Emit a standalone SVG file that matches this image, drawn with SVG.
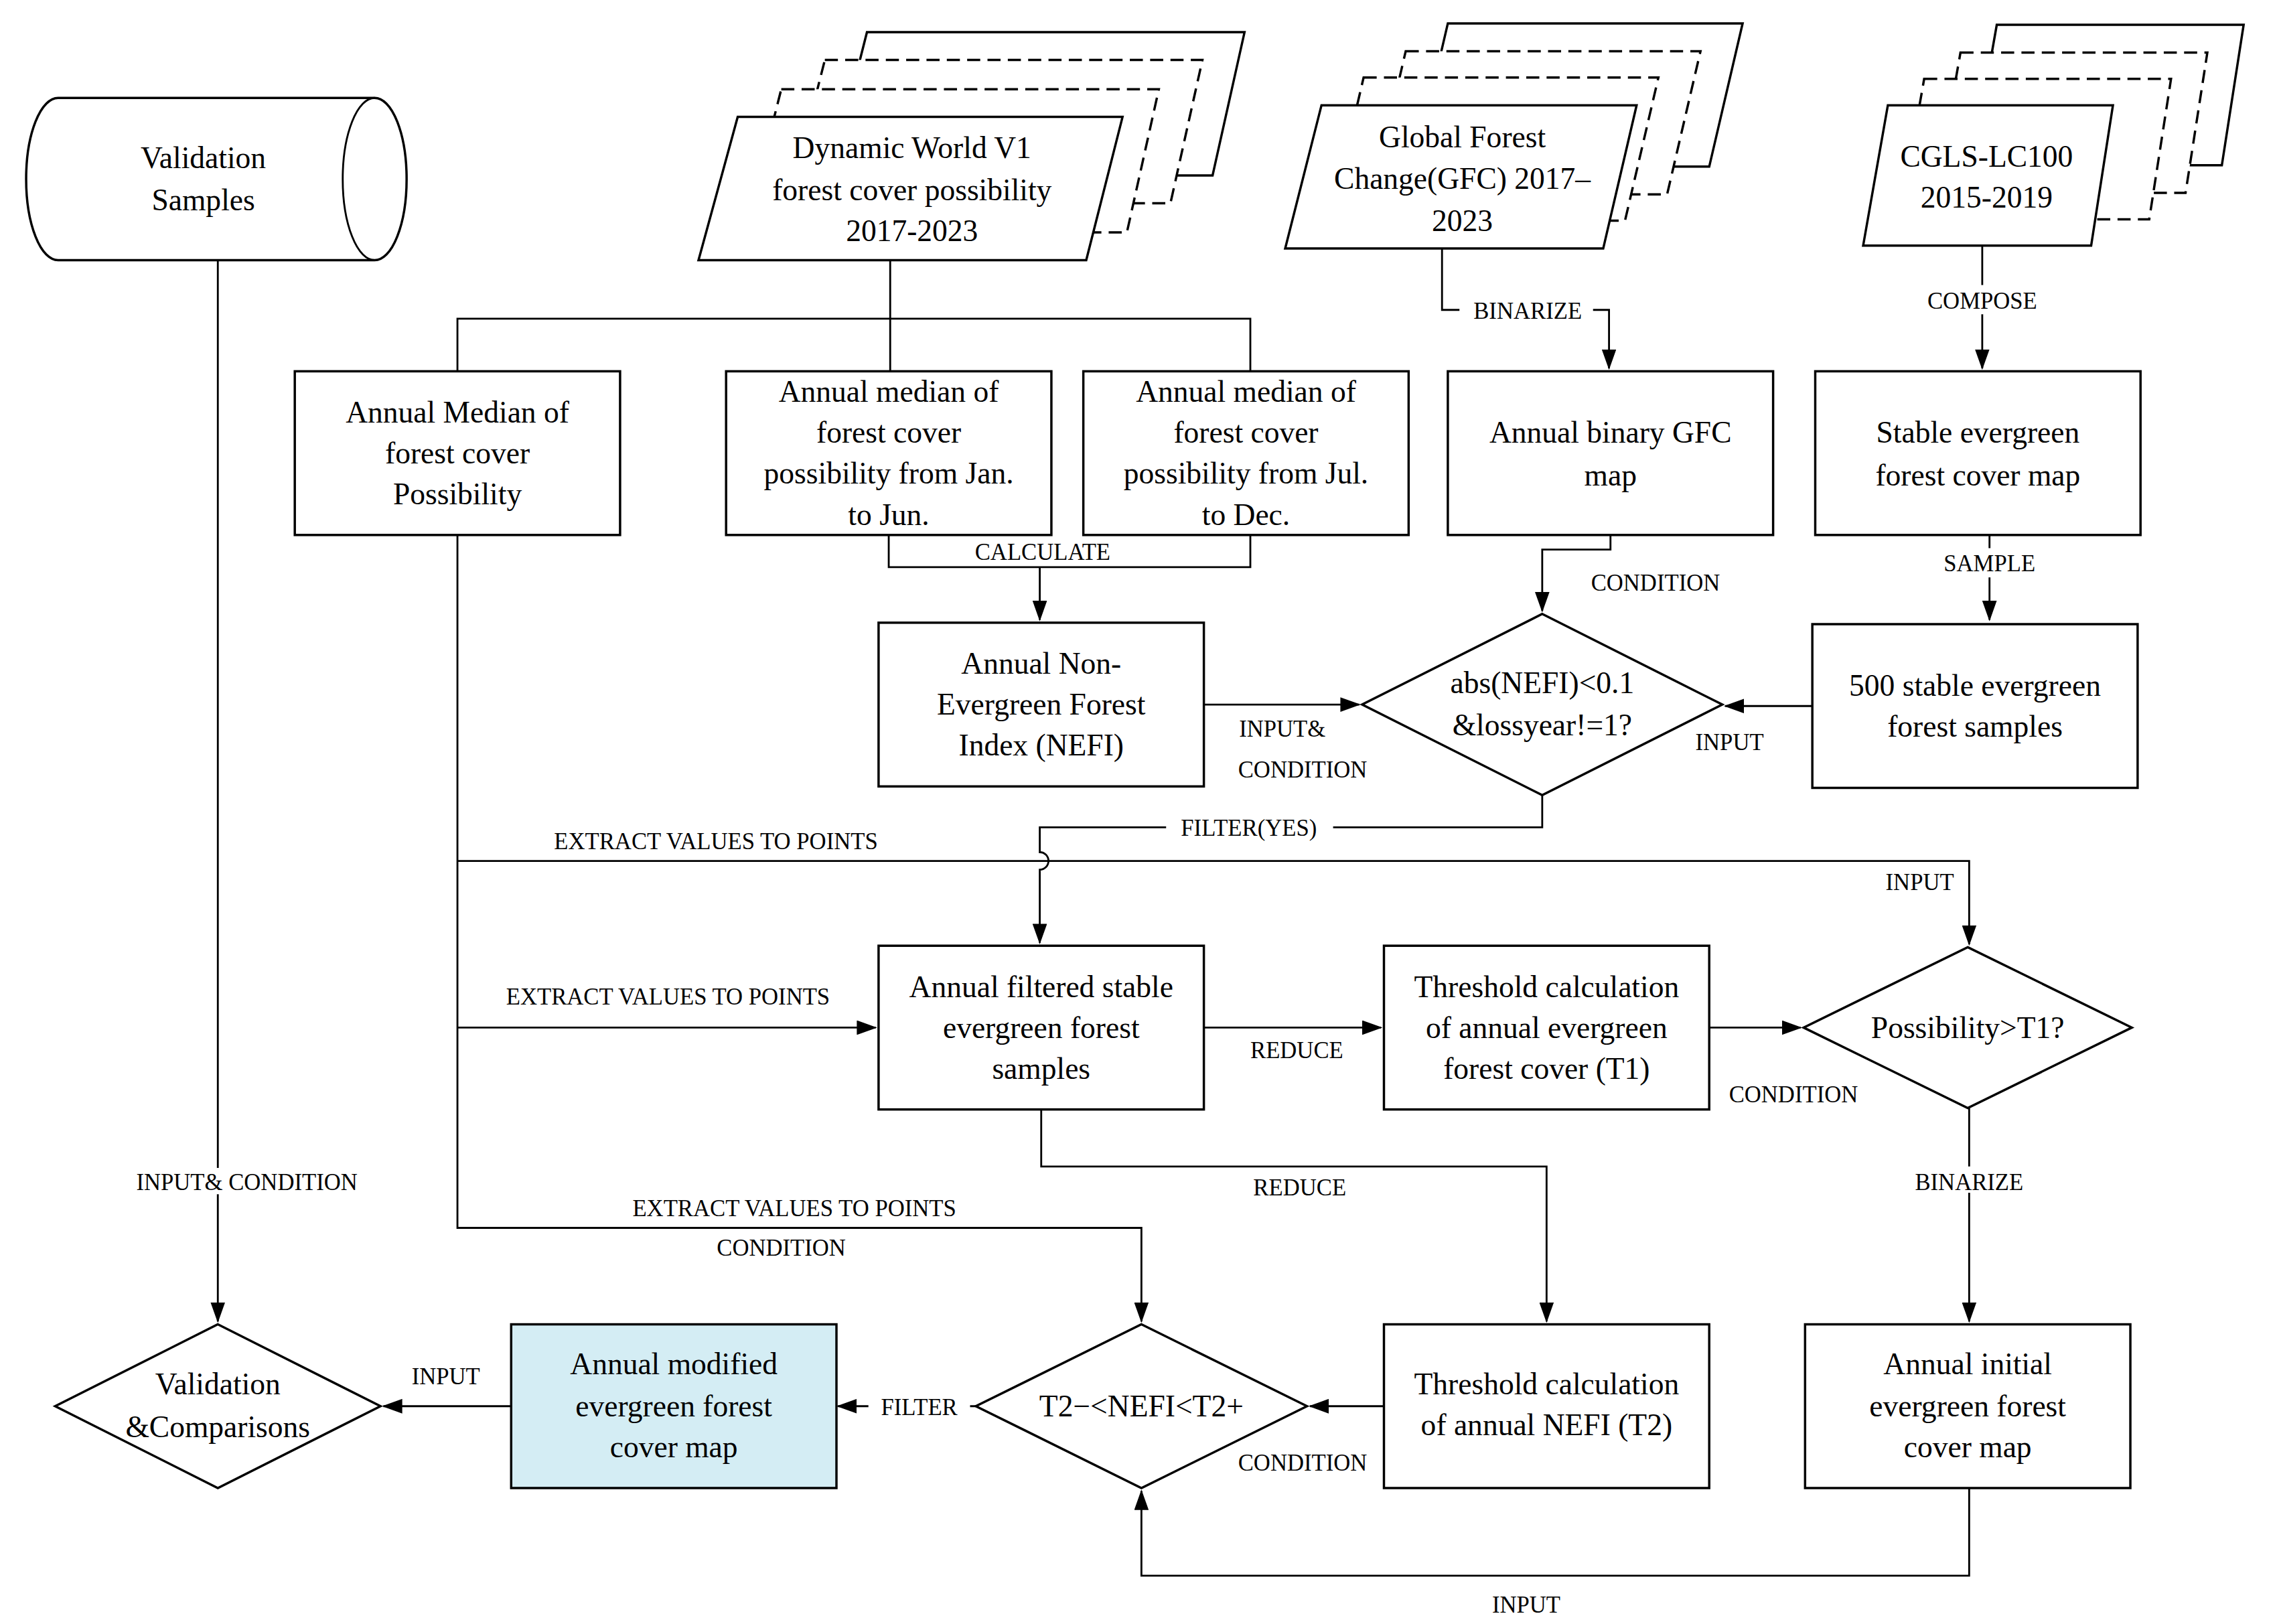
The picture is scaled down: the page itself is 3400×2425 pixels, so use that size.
<svg xmlns="http://www.w3.org/2000/svg" width="3400" height="2425" viewBox="0 0 3400 2425">
<style>
.n{fill:#fff;stroke:#000;stroke-width:1.6}
.d{fill:#fff;stroke:#000;stroke-width:1.6;stroke-dasharray:9,5}
.c{fill:none;stroke:#000;stroke-width:1.3}
.t{font-family:"Liberation Serif",serif;font-size:21px;text-anchor:middle;fill:#000}
.l{font-family:"Liberation Serif",serif;font-size:16px;text-anchor:middle;fill:#000}
.bg{fill:#fff}
</style>
<defs>
<marker id="a" markerUnits="userSpaceOnUse" markerWidth="14" markerHeight="10" refX="13" refY="5" orient="auto"><path d="M0,0 L14,5 L0,10 Z" fill="#000"/></marker>
</defs>
<rect width="3400" height="2425" fill="#fff"/>
<g transform="scale(2.1684,2.1827)">
<g id="connectors">
<path class="c" d="M613,178 V218 M315,254 V218 H861 V254 M613,218 V254"/>
<path class="c" d="M993,170 V212 H1108 V252" marker-end="url(#a)"/>
<rect class="bg" x="1005" y="203" width="92" height="18"/>
<text class="l" x="1052" y="218">BINARIZE</text>
<path class="c" d="M1365,168 V252" marker-end="url(#a)"/>
<rect class="bg" x="1318" y="195" width="94" height="20"/>
<text class="l" x="1365" y="211">COMPOSE</text>
<path class="c" d="M612,366 V388 H861 V366 M716,388 V424" marker-end="url(#a)"/>
<text class="l" x="718" y="383">CALCULATE</text>
<path class="c" d="M1370,366 V424" marker-end="url(#a)"/>
<rect class="bg" x="1330" y="375" width="80" height="20"/>
<text class="l" x="1370" y="391">SAMPLE</text>
<path class="c" d="M1109,366 V376 H1062 V418" marker-end="url(#a)"/>
<text class="l" x="1140" y="404">CONDITION</text>
<path class="c" d="M829,482 H936" marker-end="url(#a)"/>
<text class="l" x="883" y="504">INPUT&amp;</text>
<text class="l" x="897" y="532">CONDITION</text>
<path class="c" d="M1248,483 H1188" marker-end="url(#a)"/>
<text class="l" x="1191" y="513">INPUT</text>
<path class="c" d="M1062,544 V566 H716 V583 A6,6 0 0 1 716,595 V645" marker-end="url(#a)"/>
<rect class="bg" x="803" y="557" width="115" height="18"/>
<text class="l" x="860" y="572">FILTER(YES)</text>
<path class="c" d="M315,366 V840 H786 V904" marker-end="url(#a)"/>
<path class="c" d="M315,589 H1356 V646" marker-end="url(#a)"/>
<text class="l" x="493" y="581">EXTRACT VALUES TO POINTS</text>
<text class="l" x="1322" y="609">INPUT</text>
<path class="c" d="M315,703 H603" marker-end="url(#a)"/>
<text class="l" x="460" y="687">EXTRACT VALUES TO POINTS</text>
<path class="c" d="M829,703 H951" marker-end="url(#a)"/>
<text class="l" x="893" y="724">REDUCE</text>
<path class="c" d="M1177,703 H1240" marker-end="url(#a)"/>
<text class="l" x="1235" y="754">CONDITION</text>
<path class="c" d="M1356,758 V904" marker-end="url(#a)"/>
<rect class="bg" x="1308" y="798" width="96" height="18"/>
<text class="l" x="1356" y="814">BINARIZE</text>
<path class="c" d="M717,759 V798 H1065 V904" marker-end="url(#a)"/>
<text class="l" x="895" y="818">REDUCE</text>
<text class="l" x="547" y="832">EXTRACT VALUES TO POINTS</text>
<text class="l" x="538" y="859">CONDITION</text>
<path class="c" d="M953,962 H902" marker-end="url(#a)"/>
<text class="l" x="897" y="1006">CONDITION</text>
<path class="c" d="M1356,1018 V1078 H786 V1020" marker-end="url(#a)"/>
<text class="l" x="1051" y="1103">INPUT</text>
<path class="c" d="M672,962 H577" marker-end="url(#a)"/>
<rect class="bg" x="598" y="953" width="70" height="18"/>
<text class="l" x="633" y="968">FILTER</text>
<path class="c" d="M352,962 H264" marker-end="url(#a)"/>
<text class="l" x="307" y="947">INPUT</text>
<path class="c" d="M150,178 V904" marker-end="url(#a)"/>
<rect class="bg" x="72" y="799" width="198" height="18"/>
<text class="l" x="170" y="814">INPUT&amp;  CONDITION</text>
</g>
<g id="validation-samples">
<path class="n" d="M40,67 H258 A22,55.5 0 0 1 258,178 H40 A22,55.5 0 0 1 40,67 Z"/>
<path class="c" d="M258,67 A22,55.5 0 0 0 258,178"/>
<text class="t" x="140" y="115">Validation</text>
<text class="t" x="140" y="144">Samples</text>
</g>
<g id="dynamic-world">
<path class="n" d="M597,22 H857 L835,120 H572 Z"/>
<path class="d" d="M568,41 H828 L806,139 H543 Z"/>
<path class="d" d="M538,61 H798 L776,159 H513 Z"/>
<path class="n" d="M508,80 H773 L748,178 H481 Z"/>
<text class="t" x="628" y="108">Dynamic World V1</text>
<text class="t" x="628" y="137">forest cover possibility</text>
<text class="t" x="628" y="165">2017-2023</text>
</g>
<g id="gfc">
<path class="n" d="M997,16 H1200 L1177,114 H974 Z"/>
<path class="d" d="M968,35 H1171 L1148,133 H945 Z"/>
<path class="d" d="M939,53 H1142 L1119,151 H916 Z"/>
<path class="n" d="M910,72 H1127 L1104,170 H885 Z"/>
<text class="t" x="1007" y="101">Global Forest</text>
<text class="t" x="1007" y="129">Change(GFC) 2017–</text>
<text class="t" x="1007" y="158">2023</text>
</g>
<g id="cgls">
<path class="n" d="M1375,17 H1545 L1530,113 H1358 Z"/>
<path class="d" d="M1350,36 H1520 L1505,132 H1333 Z"/>
<path class="d" d="M1325,54 H1495 L1480,150 H1308 Z"/>
<path class="n" d="M1300,72 H1455 L1440,168 H1283 Z"/>
<text class="t" x="1368" y="114">CGLS-LC100</text>
<text class="t" x="1368" y="142">2015-2019</text>
</g>
<g id="annual-median"><rect class="n" x="203" y="254" width="224" height="112"/>
<text class="t" x="315" y="289">Annual Median of</text><text class="t" x="315" y="317">forest cover</text><text class="t" x="315" y="345">Possibility</text></g>
<g id="jan-jun"><rect class="n" x="500" y="254" width="224" height="112"/>
<text class="t" x="612" y="275">Annual median of</text><text class="t" x="612" y="303">forest cover</text><text class="t" x="612" y="331">possibility from Jan.</text><text class="t" x="612" y="359">to Jun.</text></g>
<g id="jul-dec"><rect class="n" x="746" y="254" width="224" height="112"/>
<text class="t" x="858" y="275">Annual median of</text><text class="t" x="858" y="303">forest cover</text><text class="t" x="858" y="331">possibility from Jul.</text><text class="t" x="858" y="359">to Dec.</text></g>
<g id="binary-gfc"><rect class="n" x="997" y="254" width="224" height="112"/>
<text class="t" x="1109" y="303">Annual binary GFC</text><text class="t" x="1109" y="332">map</text></g>
<g id="stable-map"><rect class="n" x="1250" y="254" width="224" height="112"/>
<text class="t" x="1362" y="303">Stable evergreen</text><text class="t" x="1362" y="332">forest cover map</text></g>
<g id="nefi"><rect class="n" x="605" y="426" width="224" height="112"/>
<text class="t" x="717" y="461">Annual Non-</text><text class="t" x="717" y="489">Evergreen Forest</text><text class="t" x="717" y="517">Index (NEFI)</text></g>
<g id="samples500"><rect class="n" x="1248" y="427" width="224" height="112"/>
<text class="t" x="1360" y="476">500 stable evergreen</text><text class="t" x="1360" y="504">forest samples</text></g>
<g id="diamond-abs"><path class="n" d="M1062,420 L1186,482 L1062,544 L938,482 Z"/>
<text class="t" x="1062" y="474">abs(NEFI)&lt;0.1</text><text class="t" x="1062" y="503">&amp;lossyear!=1?</text></g>
<g id="filtered"><rect class="n" x="605" y="647" width="224" height="112"/>
<text class="t" x="717" y="682">Annual filtered stable</text><text class="t" x="717" y="710">evergreen forest</text><text class="t" x="717" y="738">samples</text></g>
<g id="t1"><rect class="n" x="953" y="647" width="224" height="112"/>
<text class="t" x="1065" y="682">Threshold calculation</text><text class="t" x="1065" y="710">of annual evergreen</text><text class="t" x="1065" y="738">forest cover (T1)</text></g>
<g id="diamond-t1"><path class="n" d="M1355,648 L1468,703 L1355,758 L1242,703 Z"/>
<text class="t" x="1355" y="710">Possibility&gt;T1?</text></g>
<g id="initial"><rect class="n" x="1243" y="906" width="224" height="112"/>
<text class="t" x="1355" y="940">Annual initial</text><text class="t" x="1355" y="969">evergreen forest</text><text class="t" x="1355" y="997">cover map</text></g>
<g id="t2"><rect class="n" x="953" y="906" width="224" height="112"/>
<text class="t" x="1065" y="954">Threshold calculation</text><text class="t" x="1065" y="982">of annual NEFI (T2)</text></g>
<g id="diamond-t2"><path class="n" d="M786,906 L900,962 L786,1018 L672,962 Z"/>
<text class="t" x="786" y="969">T2−&lt;NEFI&lt;T2+</text></g>
<g id="modified"><rect class="n" x="352" y="906" width="224" height="112" style="fill:#d4edf4"/>
<text class="t" x="464" y="940">Annual modified</text><text class="t" x="464" y="969">evergreen forest</text><text class="t" x="464" y="997">cover map</text></g>
<g id="validation"><path class="n" d="M150,906 L262,962 L150,1018 L38,962 Z"/>
<text class="t" x="150" y="954">Validation</text><text class="t" x="150" y="983">&amp;Comparisons</text></g>
</g>
</svg>
